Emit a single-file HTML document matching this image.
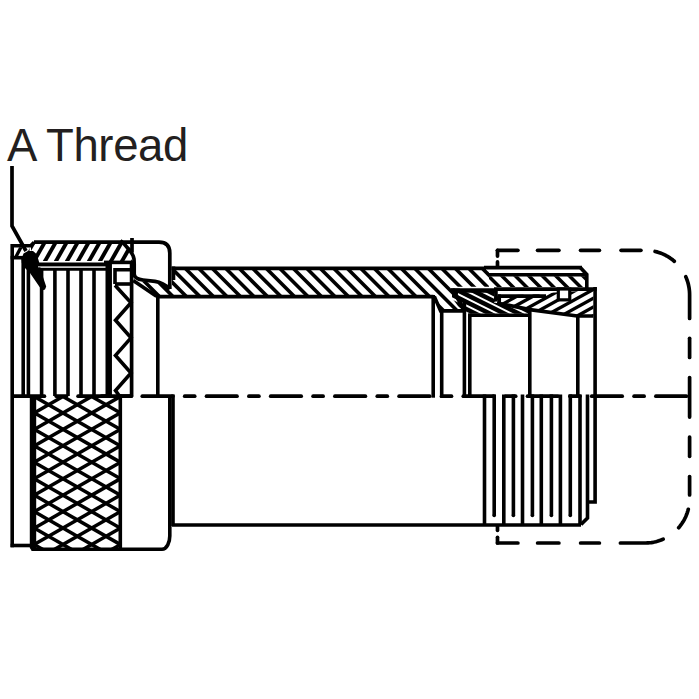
<!DOCTYPE html>
<html><head><meta charset="utf-8"><title>A Thread</title>
<style>
html,body{margin:0;padding:0;background:#fff;width:699px;height:699px;overflow:hidden}
.wrap{position:relative;width:699px;height:699px}
.lbl{position:absolute;left:7px;top:122.8px;font-family:"Liberation Sans",sans-serif;font-size:45.5px;color:#231f20;line-height:1;white-space:nowrap;letter-spacing:-0.35px}
</style></head><body><div class="wrap">
<svg width="699" height="699" viewBox="0 0 699 699" style="position:absolute;left:0;top:0"><defs><clipPath id="c1"><path d="M13.8 247.3 L29.5 247.3 L29.5 256 L13.8 256 Z"/></clipPath><clipPath id="c2"><path d="M31 243.8 L34.5 243.8 L121.5 243.8 L125.5 246.5 L128.5 250 L130.5 253.5 L132 258 L132 261 L31 261 Z"/></clipPath><clipPath id="c3"><path d="M134.5 281 L143 281.6 L155 282.9 L163 284.5 L172 290 L172 295 L157 295 L134.5 283 Z"/></clipPath><clipPath id="c4"><rect x="35.5" y="396" width="84.8" height="153"/></clipPath><clipPath id="c5"><path d="M172 270 L489 270 L489 286.8 L453 286.8 L452 290 L463.5 309.3 L440.6 309.3 L434.3 296.6 L172 295 Z"/></clipPath><clipPath id="c6"><path d="M489 276.2 L585.2 276.2 L585.2 287 L489 287 Z"/></clipPath><clipPath id="c7"><path d="M452 290.2 L494 290.2 L494 302.5 L529.8 309.5 L529.8 313.8 L466 313.8 L458 306 L452 298 Z"/></clipPath><clipPath id="c8"><path d="M494 296 L593.4 290.2 L593.4 315.8 L577.2 315.8 L529.8 309.5 L494 302.5 Z"/></clipPath></defs><path d="M12 166 L12 226 L26 251" fill="none" stroke="#000" stroke-width="3.7" stroke-linejoin="miter" stroke-linecap="butt"/>
<path d="M21.5 259 L23.5 253.5 L28 251 L33 251 L36.5 254 L38.5 260 L43 277 L46.2 286.5 L45 289.5 L42 290.5 L30 273 L24.5 267.5 L21.8 263 Z" fill="#000"/>
<line x1="12.2" y1="244" x2="12.2" y2="547.2" stroke="#000" stroke-width="3.6" stroke-linecap="butt"/>
<path d="M12.2 245.7 L30.7 245.7 L34.2 242.2" fill="none" stroke="#000" stroke-width="3.6" stroke-linejoin="miter" stroke-linecap="butt"/>
<line x1="10.6" y1="257.7" x2="24.7" y2="257.7" stroke="#000" stroke-width="3.6" stroke-linecap="butt"/>
<g clip-path="url(#c1)" stroke="#000" stroke-width="3.3"><line x1="-11.02" y1="245.3" x2="-17.7" y2="258"/><line x1="-0.02" y1="245.3" x2="-6.7" y2="258"/><line x1="10.98" y1="245.3" x2="4.3" y2="258"/><line x1="21.98" y1="245.3" x2="15.3" y2="258"/><line x1="32.98" y1="245.3" x2="26.3" y2="258"/><line x1="43.98" y1="245.3" x2="37.3" y2="258"/><line x1="54.98" y1="245.3" x2="48.3" y2="258"/><line x1="65.98" y1="245.3" x2="59.3" y2="258"/></g>
<g clip-path="url(#c2)" stroke="#000" stroke-width="3.9"><line x1="12.04" y1="241.8" x2="-0.07" y2="263"/><line x1="23.04" y1="241.8" x2="10.93" y2="263"/><line x1="34.04" y1="241.8" x2="21.93" y2="263"/><line x1="45.04" y1="241.8" x2="32.93" y2="263"/><line x1="56.04" y1="241.8" x2="43.93" y2="263"/><line x1="67.04" y1="241.8" x2="54.93" y2="263"/><line x1="78.04" y1="241.8" x2="65.93" y2="263"/><line x1="89.04" y1="241.8" x2="76.93" y2="263"/><line x1="100.04" y1="241.8" x2="87.93" y2="263"/><line x1="111.04" y1="241.8" x2="98.93" y2="263"/><line x1="122.04" y1="241.8" x2="109.93" y2="263"/><line x1="133.04" y1="241.8" x2="120.93" y2="263"/><line x1="144.04" y1="241.8" x2="131.93" y2="263"/><line x1="155.04" y1="241.8" x2="142.93" y2="263"/><line x1="166.04" y1="241.8" x2="153.93" y2="263"/><line x1="177.04" y1="241.8" x2="164.93" y2="263"/></g>
<path d="M34 242.2 L159 242.2 Q169.8 242.2 169.8 253 L169.8 289" fill="none" stroke="#000" stroke-width="3.7" stroke-linejoin="round" stroke-linecap="butt"/>
<line x1="31" y1="264.2" x2="106" y2="264.2" stroke="#000" stroke-width="3.6" stroke-linecap="butt"/>
<line x1="104" y1="262.4" x2="133" y2="262.4" stroke="#000" stroke-width="3.6" stroke-linecap="butt"/>
<line x1="38" y1="266.8" x2="106" y2="266.8" stroke="#999" stroke-width="1.5" stroke-linecap="butt"/>
<line x1="38" y1="269.3" x2="106" y2="269.3" stroke="#000" stroke-width="2.7" stroke-linecap="butt"/>
<line x1="132" y1="238" x2="132" y2="252.5" stroke="#000" stroke-width="3.7" stroke-linecap="butt"/>
<line x1="131.6" y1="262" x2="131.6" y2="396" stroke="#000" stroke-width="3.7" stroke-linecap="butt"/>
<line x1="23.2" y1="257.7" x2="23.2" y2="396" stroke="#000" stroke-width="3.6" stroke-linecap="butt"/>
<line x1="28.4" y1="266" x2="28.4" y2="396" stroke="#000" stroke-width="3.6" stroke-linecap="butt"/>
<line x1="41.6" y1="268.2" x2="41.6" y2="396" stroke="#000" stroke-width="3.6" stroke-linecap="butt"/>
<line x1="54.9" y1="268.2" x2="54.9" y2="396" stroke="#000" stroke-width="3.6" stroke-linecap="butt"/>
<line x1="68" y1="268.2" x2="68" y2="396" stroke="#000" stroke-width="3.6" stroke-linecap="butt"/>
<line x1="81" y1="268.2" x2="81" y2="396" stroke="#000" stroke-width="3.6" stroke-linecap="butt"/>
<line x1="94" y1="268.2" x2="94" y2="396" stroke="#000" stroke-width="3.6" stroke-linecap="butt"/>
<line x1="107.3" y1="264" x2="107.3" y2="396" stroke="#000" stroke-width="3.6" stroke-linecap="butt"/>
<line x1="110.3" y1="264" x2="110.3" y2="396" stroke="#000" stroke-width="3.3" stroke-linecap="butt"/>
<path d="M115 284 L115 269.7 L131.5 269.7" fill="none" stroke="#000" stroke-width="3.6" stroke-linejoin="miter" stroke-linecap="butt"/>
<line x1="115" y1="284" x2="131.5" y2="284" stroke="#000" stroke-width="3.6" stroke-linecap="butt"/>
<path d="M115 285.2 L131 302.75 L115.5 320.3 L131 337.85 L115.5 355.4 L131 372.95 L115.5 390.5 L119.5 396" fill="none" stroke="#000" stroke-width="3.6" stroke-linejoin="miter" stroke-linecap="butt"/>
<path d="M120.3 240.8 L124 243.8 L127.2 247.4 L129.8 250.3 L131.7 253.2 L133.2 256 L134 258.9 L134.2 264 L134.2 274 Q134.3 279 143 280 L155 281.3 Q163 282.5 170 289" fill="none" stroke="#000" stroke-width="3.7" stroke-linejoin="round" stroke-linecap="butt"/>
<g clip-path="url(#c3)" stroke="#000" stroke-width="3.6"><line x1="101.4" y1="279" x2="119.4" y2="297"/><line x1="114.9" y1="279" x2="132.9" y2="297"/><line x1="128.4" y1="279" x2="146.4" y2="297"/><line x1="141.9" y1="279" x2="159.9" y2="297"/><line x1="155.4" y1="279" x2="173.4" y2="297"/><line x1="168.9" y1="279" x2="186.9" y2="297"/><line x1="182.4" y1="279" x2="200.4" y2="297"/><line x1="195.9" y1="279" x2="213.9" y2="297"/><line x1="209.4" y1="279" x2="227.4" y2="297"/><line x1="222.9" y1="279" x2="240.9" y2="297"/></g>
<path d="M133.2 280.5 L156.5 296.3" fill="none" stroke="#000" stroke-width="3.7" stroke-linejoin="miter" stroke-linecap="butt"/>
<line x1="157.8" y1="294.6" x2="157.8" y2="397.7" stroke="#000" stroke-width="3.6" stroke-linecap="butt"/>
<path d="M29.8 395 L36.2 395 L36.2 550.6 L31.6 550.6 L29.8 548 Z" fill="#000"/>
<line x1="10.6" y1="545.5" x2="31" y2="545.5" stroke="#000" stroke-width="3.6" stroke-linecap="butt"/>
<g clip-path="url(#c4)" stroke="#000" stroke-width="3.5"><line x1="30" y1="163.74" x2="125" y2="218.18"/><line x1="30" y1="180.19" x2="125" y2="234.63"/><line x1="30" y1="196.64" x2="125" y2="251.08"/><line x1="30" y1="213.09" x2="125" y2="267.53"/><line x1="30" y1="229.54" x2="125" y2="283.98"/><line x1="30" y1="245.99" x2="125" y2="300.43"/><line x1="30" y1="262.44" x2="125" y2="316.88"/><line x1="30" y1="278.89" x2="125" y2="333.33"/><line x1="30" y1="295.34" x2="125" y2="349.78"/><line x1="30" y1="311.79" x2="125" y2="366.23"/><line x1="30" y1="328.24" x2="125" y2="382.68"/><line x1="30" y1="344.69" x2="125" y2="399.13"/><line x1="30" y1="361.14" x2="125" y2="415.58"/><line x1="30" y1="377.59" x2="125" y2="432.03"/><line x1="30" y1="394.04" x2="125" y2="448.48"/><line x1="30" y1="410.49" x2="125" y2="464.93"/><line x1="30" y1="426.94" x2="125" y2="481.38"/><line x1="30" y1="443.39" x2="125" y2="497.83"/><line x1="30" y1="459.84" x2="125" y2="514.28"/><line x1="30" y1="476.29" x2="125" y2="530.73"/><line x1="30" y1="492.74" x2="125" y2="547.18"/><line x1="30" y1="509.19" x2="125" y2="563.63"/><line x1="30" y1="525.64" x2="125" y2="580.08"/><line x1="30" y1="542.09" x2="125" y2="596.53"/><line x1="30" y1="558.54" x2="125" y2="612.98"/><line x1="30" y1="574.99" x2="125" y2="629.43"/><line x1="30" y1="591.44" x2="125" y2="645.88"/><line x1="30" y1="607.89" x2="125" y2="662.33"/><line x1="30" y1="185.06" x2="125" y2="130.62"/><line x1="30" y1="201.51" x2="125" y2="147.07"/><line x1="30" y1="217.96" x2="125" y2="163.52"/><line x1="30" y1="234.41" x2="125" y2="179.97"/><line x1="30" y1="250.86" x2="125" y2="196.42"/><line x1="30" y1="267.31" x2="125" y2="212.87"/><line x1="30" y1="283.76" x2="125" y2="229.32"/><line x1="30" y1="300.21" x2="125" y2="245.77"/><line x1="30" y1="316.66" x2="125" y2="262.22"/><line x1="30" y1="333.11" x2="125" y2="278.67"/><line x1="30" y1="349.56" x2="125" y2="295.12"/><line x1="30" y1="366.01" x2="125" y2="311.57"/><line x1="30" y1="382.46" x2="125" y2="328.02"/><line x1="30" y1="398.91" x2="125" y2="344.47"/><line x1="30" y1="415.36" x2="125" y2="360.92"/><line x1="30" y1="431.81" x2="125" y2="377.37"/><line x1="30" y1="448.26" x2="125" y2="393.82"/><line x1="30" y1="464.71" x2="125" y2="410.27"/><line x1="30" y1="481.16" x2="125" y2="426.72"/><line x1="30" y1="497.61" x2="125" y2="443.17"/><line x1="30" y1="514.06" x2="125" y2="459.62"/><line x1="30" y1="530.51" x2="125" y2="476.07"/><line x1="30" y1="546.96" x2="125" y2="492.52"/><line x1="30" y1="563.41" x2="125" y2="508.97"/><line x1="30" y1="579.86" x2="125" y2="525.42"/><line x1="30" y1="596.31" x2="125" y2="541.87"/><line x1="30" y1="612.76" x2="125" y2="558.32"/><line x1="30" y1="629.21" x2="125" y2="574.77"/></g>
<line x1="120.3" y1="394.5" x2="120.3" y2="549" stroke="#000" stroke-width="3.6" stroke-linecap="butt"/>
<path d="M169.8 396 L169.8 536 C169.8 542 167 549.2 162 549.2 L31.5 549.2" fill="none" stroke="#000" stroke-width="3.6" stroke-linejoin="miter" stroke-linecap="butt"/>
<line x1="171.5" y1="268.4" x2="486" y2="268.4" stroke="#000" stroke-width="3.7" stroke-linecap="butt"/>
<line x1="484" y1="267.7" x2="582" y2="267.7" stroke="#000" stroke-width="3.7" stroke-linecap="butt"/>
<line x1="173.5" y1="266.5" x2="173.5" y2="280" stroke="#000" stroke-width="3.6" stroke-linecap="butt"/>
<g clip-path="url(#c5)" stroke="#000" stroke-width="3.6"><line x1="103.9" y1="268" x2="147.2" y2="311.3"/><line x1="117.4" y1="268" x2="160.7" y2="311.3"/><line x1="130.9" y1="268" x2="174.2" y2="311.3"/><line x1="144.4" y1="268" x2="187.7" y2="311.3"/><line x1="157.9" y1="268" x2="201.2" y2="311.3"/><line x1="171.4" y1="268" x2="214.7" y2="311.3"/><line x1="184.9" y1="268" x2="228.2" y2="311.3"/><line x1="198.4" y1="268" x2="241.7" y2="311.3"/><line x1="211.9" y1="268" x2="255.2" y2="311.3"/><line x1="225.4" y1="268" x2="268.7" y2="311.3"/><line x1="238.9" y1="268" x2="282.2" y2="311.3"/><line x1="252.4" y1="268" x2="295.7" y2="311.3"/><line x1="265.9" y1="268" x2="309.2" y2="311.3"/><line x1="279.4" y1="268" x2="322.7" y2="311.3"/><line x1="292.9" y1="268" x2="336.2" y2="311.3"/><line x1="306.4" y1="268" x2="349.7" y2="311.3"/><line x1="319.9" y1="268" x2="363.2" y2="311.3"/><line x1="333.4" y1="268" x2="376.7" y2="311.3"/><line x1="346.9" y1="268" x2="390.2" y2="311.3"/><line x1="360.4" y1="268" x2="403.7" y2="311.3"/><line x1="373.9" y1="268" x2="417.2" y2="311.3"/><line x1="387.4" y1="268" x2="430.7" y2="311.3"/><line x1="400.9" y1="268" x2="444.2" y2="311.3"/><line x1="414.4" y1="268" x2="457.7" y2="311.3"/><line x1="427.9" y1="268" x2="471.2" y2="311.3"/><line x1="441.4" y1="268" x2="484.7" y2="311.3"/><line x1="454.9" y1="268" x2="498.2" y2="311.3"/><line x1="468.4" y1="268" x2="511.7" y2="311.3"/><line x1="481.9" y1="268" x2="525.2" y2="311.3"/><line x1="495.4" y1="268" x2="538.7" y2="311.3"/><line x1="508.9" y1="268" x2="552.2" y2="311.3"/><line x1="522.4" y1="268" x2="565.7" y2="311.3"/><line x1="535.9" y1="268" x2="579.2" y2="311.3"/><line x1="549.4" y1="268" x2="592.7" y2="311.3"/></g>
<line x1="156" y1="296.6" x2="433.5" y2="296.6" stroke="#000" stroke-width="3.7" stroke-linecap="butt"/>
<line x1="433.2" y1="295" x2="433.2" y2="397.7" stroke="#000" stroke-width="3.6" stroke-linecap="butt"/>
<path d="M434.3 296.6 L440.6 310.9 L464 310.9" fill="none" stroke="#000" stroke-width="3.6" stroke-linejoin="miter" stroke-linecap="butt"/>
<line x1="441.7" y1="309.3" x2="441.7" y2="397.7" stroke="#000" stroke-width="3.6" stroke-linecap="butt"/>
<line x1="464.4" y1="300" x2="464.4" y2="397.7" stroke="#000" stroke-width="3.6" stroke-linecap="butt"/>
<line x1="469.8" y1="313.5" x2="469.8" y2="397.7" stroke="#000" stroke-width="3.6" stroke-linecap="butt"/>
<line x1="468.2" y1="315.2" x2="531" y2="315.2" stroke="#000" stroke-width="3.6" stroke-linecap="butt"/>
<line x1="173" y1="394.5" x2="173" y2="526" stroke="#000" stroke-width="3.6" stroke-linecap="butt"/>
<line x1="172" y1="525" x2="581" y2="525" stroke="#000" stroke-width="3.6" stroke-linecap="butt"/>
<path d="M580.5 267.7 L586.8 274.5 L586.8 289" fill="none" stroke="#000" stroke-width="3.6" stroke-linejoin="miter" stroke-linecap="butt"/>
<line x1="488.6" y1="274.7" x2="585" y2="274.7" stroke="#000" stroke-width="3.5" stroke-linecap="butt"/>
<g clip-path="url(#c6)" stroke="#000" stroke-width="3.5"><line x1="446.2" y1="274.2" x2="461" y2="289"/><line x1="459.7" y1="274.2" x2="474.5" y2="289"/><line x1="473.2" y1="274.2" x2="488" y2="289"/><line x1="486.7" y1="274.2" x2="501.5" y2="289"/><line x1="500.2" y1="274.2" x2="515" y2="289"/><line x1="513.7" y1="274.2" x2="528.5" y2="289"/><line x1="527.2" y1="274.2" x2="542" y2="289"/><line x1="540.7" y1="274.2" x2="555.5" y2="289"/><line x1="554.2" y1="274.2" x2="569" y2="289"/><line x1="567.7" y1="274.2" x2="582.5" y2="289"/><line x1="581.2" y1="274.2" x2="596" y2="289"/><line x1="594.7" y1="274.2" x2="609.5" y2="289"/><line x1="608.2" y1="274.2" x2="623" y2="289"/><line x1="621.7" y1="274.2" x2="636.5" y2="289"/></g>
<line x1="494" y1="289.2" x2="596.7" y2="289.2" stroke="#000" stroke-width="3.7" stroke-linecap="butt"/>
<line x1="451" y1="290.5" x2="495" y2="290.5" stroke="#000" stroke-width="4.5" stroke-linecap="butt"/>
<path d="M595.1 287 L595.1 502 L587.5 502" fill="none" stroke="#000" stroke-width="3.6" stroke-linejoin="miter" stroke-linecap="butt"/>
<path d="M587.5 394.5 L587.5 518 L581 524.5" fill="none" stroke="#000" stroke-width="3.6" stroke-linejoin="miter" stroke-linecap="butt"/>
<line x1="452.5" y1="289" x2="464" y2="309.5" stroke="#000" stroke-width="3.9" stroke-linecap="butt"/>
<path d="M451 288.5 L460 288.5 L457 296 L452.5 296 Z" fill="#000"/>
<g clip-path="url(#c7)" stroke="#000" stroke-width="4.5"><line x1="366.5" y1="288.2" x2="421.7" y2="315.8"/><line x1="381" y1="288.2" x2="436.2" y2="315.8"/><line x1="395.5" y1="288.2" x2="450.7" y2="315.8"/><line x1="410" y1="288.2" x2="465.2" y2="315.8"/><line x1="424.5" y1="288.2" x2="479.7" y2="315.8"/><line x1="439" y1="288.2" x2="494.2" y2="315.8"/><line x1="453.5" y1="288.2" x2="508.7" y2="315.8"/><line x1="468" y1="288.2" x2="523.2" y2="315.8"/><line x1="482.5" y1="288.2" x2="537.7" y2="315.8"/><line x1="497" y1="288.2" x2="552.2" y2="315.8"/><line x1="511.5" y1="288.2" x2="566.7" y2="315.8"/><line x1="526" y1="288.2" x2="581.2" y2="315.8"/><line x1="540.5" y1="288.2" x2="595.7" y2="315.8"/><line x1="555" y1="288.2" x2="610.2" y2="315.8"/><line x1="569.5" y1="288.2" x2="624.7" y2="315.8"/><line x1="584" y1="288.2" x2="639.2" y2="315.8"/><line x1="598.5" y1="288.2" x2="653.7" y2="315.8"/></g>
<g clip-path="url(#c8)" stroke="#000" stroke-width="3.3"><line x1="451.64" y1="288.2" x2="397.82" y2="317.8"/><line x1="467.64" y1="288.2" x2="413.82" y2="317.8"/><line x1="483.64" y1="288.2" x2="429.82" y2="317.8"/><line x1="499.64" y1="288.2" x2="445.82" y2="317.8"/><line x1="515.64" y1="288.2" x2="461.82" y2="317.8"/><line x1="531.64" y1="288.2" x2="477.82" y2="317.8"/><line x1="547.64" y1="288.2" x2="493.82" y2="317.8"/><line x1="563.64" y1="288.2" x2="509.82" y2="317.8"/><line x1="579.64" y1="288.2" x2="525.82" y2="317.8"/><line x1="595.64" y1="288.2" x2="541.82" y2="317.8"/><line x1="611.64" y1="288.2" x2="557.82" y2="317.8"/><line x1="627.64" y1="288.2" x2="573.82" y2="317.8"/><line x1="643.64" y1="288.2" x2="589.82" y2="317.8"/><line x1="659.64" y1="288.2" x2="605.82" y2="317.8"/><line x1="675.64" y1="288.2" x2="621.82" y2="317.8"/><line x1="691.64" y1="288.2" x2="637.82" y2="317.8"/><line x1="707.64" y1="288.2" x2="653.82" y2="317.8"/></g>
<path d="M497 303 L529.8 309.6 L577.2 316 L593.4 316" fill="none" stroke="#000" stroke-width="3.7" stroke-linejoin="miter" stroke-linecap="butt"/>
<rect x="497.6" y="291.2" width="48.4" height="3.2" fill="#fff"/>
<line x1="495.9" y1="289" x2="495.9" y2="301.5" stroke="#000" stroke-width="3.7" stroke-linecap="butt"/>
<line x1="497.6" y1="296.2" x2="546" y2="296.2" stroke="#000" stroke-width="3.7" stroke-linecap="butt"/>
<line x1="499.3" y1="294.4" x2="499.3" y2="302.5" stroke="#000" stroke-width="3.5" stroke-linecap="butt"/>
<rect x="558.3" y="289" width="11.45" height="10.85" fill="#fff" stroke="#000" stroke-width="3.2"/>
<line x1="529.8" y1="310" x2="529.8" y2="397.7" stroke="#000" stroke-width="3.6" stroke-linecap="butt"/>
<line x1="577.8" y1="315" x2="577.8" y2="397.7" stroke="#000" stroke-width="3.6" stroke-linecap="butt"/>
<line x1="484.5" y1="394.5" x2="484.5" y2="524.5" stroke="#000" stroke-width="3.6" stroke-linecap="butt"/>
<line x1="503.8" y1="394.5" x2="503.8" y2="524.5" stroke="#000" stroke-width="3.6" stroke-linecap="butt"/>
<line x1="522.5" y1="394.5" x2="522.5" y2="524.5" stroke="#000" stroke-width="3.6" stroke-linecap="butt"/>
<line x1="541.3" y1="394.5" x2="541.3" y2="524.5" stroke="#000" stroke-width="3.6" stroke-linecap="butt"/>
<line x1="560.4" y1="394.5" x2="560.4" y2="524.5" stroke="#000" stroke-width="3.6" stroke-linecap="butt"/>
<line x1="580" y1="394.5" x2="580" y2="524.5" stroke="#000" stroke-width="3.6" stroke-linecap="butt"/>
<line x1="494.2" y1="394.4" x2="494.2" y2="515.5" stroke="#000" stroke-width="3.6" stroke-linecap="butt"/>
<circle cx="494.2" cy="515.5" r="1.8" fill="#000"/>
<line x1="513.4" y1="394.4" x2="513.4" y2="515.5" stroke="#000" stroke-width="3.6" stroke-linecap="butt"/>
<circle cx="513.4" cy="515.5" r="1.8" fill="#000"/>
<line x1="532.4" y1="394.4" x2="532.4" y2="515.5" stroke="#000" stroke-width="3.6" stroke-linecap="butt"/>
<circle cx="532.4" cy="515.5" r="1.8" fill="#000"/>
<line x1="551.4" y1="394.4" x2="551.4" y2="515.5" stroke="#000" stroke-width="3.6" stroke-linecap="butt"/>
<circle cx="551.4" cy="515.5" r="1.8" fill="#000"/>
<line x1="570.3" y1="394.4" x2="570.3" y2="515.5" stroke="#000" stroke-width="3.6" stroke-linecap="butt"/>
<circle cx="570.3" cy="515.5" r="1.8" fill="#000"/>
<line x1="13.9" y1="396.2" x2="44.4" y2="396.2" stroke="#000" stroke-width="3.7" stroke-linecap="round"/>
<line x1="56.3" y1="396.2" x2="66.3" y2="396.2" stroke="#000" stroke-width="3.7" stroke-linecap="round"/>
<line x1="78.1" y1="396.2" x2="108.6" y2="396.2" stroke="#000" stroke-width="3.7" stroke-linecap="round"/>
<line x1="120.5" y1="396.2" x2="130.5" y2="396.2" stroke="#000" stroke-width="3.7" stroke-linecap="round"/>
<line x1="142.3" y1="396.2" x2="172.8" y2="396.2" stroke="#000" stroke-width="3.7" stroke-linecap="round"/>
<line x1="184.7" y1="396.2" x2="194.7" y2="396.2" stroke="#000" stroke-width="3.7" stroke-linecap="round"/>
<line x1="206.5" y1="396.2" x2="237" y2="396.2" stroke="#000" stroke-width="3.7" stroke-linecap="round"/>
<line x1="248.9" y1="396.2" x2="258.9" y2="396.2" stroke="#000" stroke-width="3.7" stroke-linecap="round"/>
<line x1="270.7" y1="396.2" x2="301.2" y2="396.2" stroke="#000" stroke-width="3.7" stroke-linecap="round"/>
<line x1="313.1" y1="396.2" x2="323.1" y2="396.2" stroke="#000" stroke-width="3.7" stroke-linecap="round"/>
<line x1="334.9" y1="396.2" x2="365.4" y2="396.2" stroke="#000" stroke-width="3.7" stroke-linecap="round"/>
<line x1="377.3" y1="396.2" x2="387.3" y2="396.2" stroke="#000" stroke-width="3.7" stroke-linecap="round"/>
<line x1="399.1" y1="396.2" x2="429.6" y2="396.2" stroke="#000" stroke-width="3.7" stroke-linecap="round"/>
<line x1="441.5" y1="396.2" x2="451.5" y2="396.2" stroke="#000" stroke-width="3.7" stroke-linecap="round"/>
<line x1="463.3" y1="396.2" x2="493.8" y2="396.2" stroke="#000" stroke-width="3.7" stroke-linecap="round"/>
<line x1="505.7" y1="396.2" x2="515.7" y2="396.2" stroke="#000" stroke-width="3.7" stroke-linecap="round"/>
<line x1="527.5" y1="396.2" x2="558" y2="396.2" stroke="#000" stroke-width="3.7" stroke-linecap="round"/>
<line x1="569.9" y1="396.2" x2="579.9" y2="396.2" stroke="#000" stroke-width="3.7" stroke-linecap="round"/>
<line x1="591.7" y1="396.2" x2="622.2" y2="396.2" stroke="#000" stroke-width="3.7" stroke-linecap="round"/>
<line x1="634.1" y1="396.2" x2="644.1" y2="396.2" stroke="#000" stroke-width="3.7" stroke-linecap="round"/>
<line x1="655.9" y1="396.2" x2="686.4" y2="396.2" stroke="#000" stroke-width="3.7" stroke-linecap="round"/>
<line x1="101.5" y1="396.2" x2="131.5" y2="396.2" stroke="#000" stroke-width="3.7" stroke-linecap="round"/>
<line x1="497.5" y1="256.1" x2="497.5" y2="250.3" stroke="#000" stroke-width="3.7" stroke-linecap="round"/>
<line x1="497.5" y1="261.9" x2="497.5" y2="265.9" stroke="#000" stroke-width="3.7" stroke-linecap="round"/>
<line x1="497.5" y1="250.3" x2="517.9" y2="250.3" stroke="#000" stroke-width="3.7" stroke-linecap="round"/>
<line x1="497.5" y1="526.1" x2="497.5" y2="530.3" stroke="#000" stroke-width="3.7" stroke-linecap="round"/>
<line x1="497.5" y1="537.3" x2="497.5" y2="543" stroke="#000" stroke-width="3.7" stroke-linecap="round"/>
<line x1="497.5" y1="543" x2="517.9" y2="543" stroke="#000" stroke-width="3.7" stroke-linecap="round"/>
<line x1="537.6" y1="250.3" x2="558.9" y2="250.3" stroke="#000" stroke-width="3.7" stroke-linecap="round"/>
<line x1="580.6" y1="250.3" x2="599.4" y2="250.3" stroke="#000" stroke-width="3.7" stroke-linecap="round"/>
<line x1="621.1" y1="250.3" x2="640.9" y2="250.3" stroke="#000" stroke-width="3.7" stroke-linecap="round"/>
<path d="M655.11 251.44 L656.87 251.88 L658.6 252.4 L660.32 252.98 L662.01 253.64 L663.67 254.36 L665.3 255.15 L666.9 256.01 L668.46 256.93 L669.98 257.91 L671.47 258.95 L672.9 260.05 L674.29 261.22" fill="none" stroke="#000" stroke-width="3.7" stroke-linejoin="round" stroke-linecap="round"/>
<path d="M685.75 276.7 L686.36 278.13 L686.92 279.58 L687.42 281.05 L687.88 282.53 L688.28 284.03 L688.63 285.55 L688.92 287.07 L689.17 288.61 L689.36 290.15 L689.49 291.7 L689.57 293.25 L689.6 294.8 L689.6 318.5" fill="none" stroke="#000" stroke-width="3.7" stroke-linejoin="round" stroke-linecap="round"/>
<line x1="689.6" y1="338.3" x2="689.6" y2="357.5" stroke="#000" stroke-width="3.7" stroke-linecap="round"/>
<line x1="689.6" y1="377.5" x2="689.6" y2="417.1" stroke="#000" stroke-width="3.7" stroke-linecap="round"/>
<line x1="689.6" y1="437" x2="689.6" y2="456.3" stroke="#000" stroke-width="3.7" stroke-linecap="round"/>
<line x1="689.6" y1="476.5" x2="689.6" y2="494.9" stroke="#000" stroke-width="3.7" stroke-linecap="round"/>
<path d="M688.28 509.27 L687.82 510.95 L687.3 512.62 L686.71 514.27 L686.06 515.89 L685.35 517.48 L684.57 519.05 L683.73 520.58 L682.84 522.08 L681.88 523.54 L680.87 524.97 L679.8 526.35 L678.68 527.69" fill="none" stroke="#000" stroke-width="3.7" stroke-linejoin="round" stroke-linecap="round"/>
<path d="M663.2 539.15 L661.77 539.76 L660.32 540.32 L658.85 540.82 L657.37 541.28 L655.87 541.68 L654.35 542.03 L652.83 542.32 L651.29 542.57 L649.75 542.76 L648.2 542.89 L646.65 542.97 L645.1 543 L620.4 543" fill="none" stroke="#000" stroke-width="3.7" stroke-linejoin="round" stroke-linecap="round"/>
<line x1="580.6" y1="543" x2="599.4" y2="543" stroke="#000" stroke-width="3.7" stroke-linecap="round"/>
<line x1="537.6" y1="543" x2="558.9" y2="543" stroke="#000" stroke-width="3.7" stroke-linecap="round"/></svg>
<div class="lbl">A Thread</div>
</div></body></html>
